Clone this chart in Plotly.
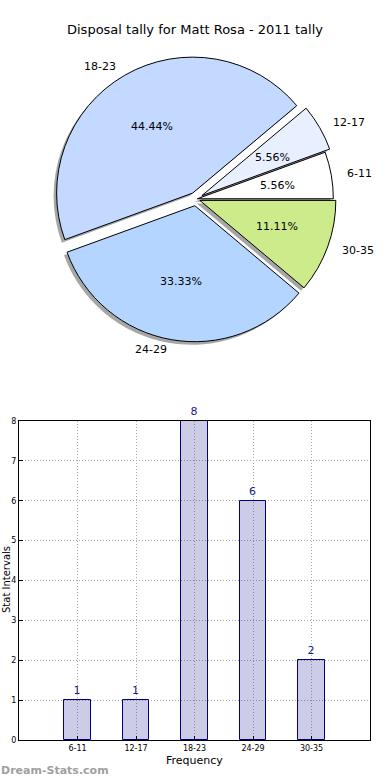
import math
import plotly.graph_objects as go

categories = ["6-11", "12-17", "18-23", "24-29", "30-35"]
counts = [1, 1, 8, 6, 2]
pie_colors = ["#FFFFFF", "#E8F0FF", "#C4D9FF", "#B4D5FF", "#CDEB8B"]
pulls = [0.01, 0.05, 0.05, 0.05, 0.03]
y_ticks = [0, 1, 2, 3, 4, 5, 6, 7, 8]

W, H = 390, 780
FONT = "DejaVu Sans"

total = sum(counts)
# plotly counterclockwise pies end the first slice at 'rotation'; start it at 3 o'clock
rot = 90 - 360 * counts[0] / total

# pie geometry (pixels)
cx, cy, r = 196, 199, 136
ysq_pct = 0.95  # vertical squeeze for percentage placement
ysq_lab = 0.98  # vertical squeeze for label placement
maxpull = max(pulls)
R = r * (1 + maxpull)
dom_x = [(cx - R) / W, (cx + R) / W]
dom_y = [1 - (cy + R) / H, 1 - (cy - R) / H]
sh = 3  # shadow offset px
dom_x_sh = [dom_x[0] - sh / W, dom_x[1] - sh / W]
dom_y_sh = [dom_y[0] - sh / H, dom_y[1] - sh / H]

fig = go.Figure()

# shadow
fig.add_trace(go.Pie(
    values=counts, labels=categories, sort=False, direction="counterclockwise",
    rotation=rot, pull=pulls, domain=dict(x=dom_x_sh, y=dom_y_sh),
    marker=dict(colors=["rgba(0,0,0,0.35)"] * len(counts), line=dict(width=0)),
    textinfo="none", hoverinfo="skip", showlegend=False,
))
# main pie
fig.add_trace(go.Pie(
    values=counts, labels=categories, sort=False, direction="counterclockwise",
    rotation=rot, pull=pulls, domain=dict(x=dom_x, y=dom_y),
    marker=dict(colors=pie_colors, line=dict(color="black", width=1)),
    textinfo="none", showlegend=False,
))

# percentage and category labels computed from values
cum = 0
for lab, c, p in zip(categories, counts, pulls):
    frac = c / total
    ang = math.radians((cum + frac / 2) * 360)
    cum += frac
    # percentage inside
    d = (0.6 + p) * r
    fig.add_annotation(x=(cx + d * math.cos(ang)) / W,
                       y=1 - (cy - ysq_pct * d * math.sin(ang)) / H,
                       xref="paper", yref="paper", xanchor="center", yanchor="middle",
                       text=f"{frac * 100:.2f}%", showarrow=False,
                       font=dict(family=FONT, size=11, color="black"))
    # category label outside
    d = (1.1 + p) * r
    fig.add_annotation(x=(cx + d * math.cos(ang)) / W,
                       y=1 - (cy - ysq_lab * d * math.sin(ang)) / H,
                       xref="paper", yref="paper",
                       xanchor="left" if math.cos(ang) > 0 else "right", yanchor="middle",
                       text=lab, showarrow=False,
                       font=dict(family=FONT, size=11, color="black"))

# bar chart
xs = list(range(len(categories)))
fig.add_trace(go.Bar(
    x=xs, y=counts, width=0.45, xaxis="x", yaxis="y",
    marker=dict(color="rgba(0,0,128,0.2)", line=dict(color="#000080", width=1)),
    text=[str(v) for v in counts], textposition="outside", cliponaxis=False,
    textfont=dict(family=FONT, size=11, color="#1a1a8c"),
    showlegend=False,
))

grid = dict(showgrid=True, gridcolor="#a8a8a8", griddash="1px,2px", gridwidth=1,
            showline=True, linecolor="black", linewidth=1, mirror=True,
            ticks="inside", ticklen=4, tickcolor="black", automargin=False,
            tickfont=dict(family=FONT, size=8, color="black"), zeroline=False)

fig.update_layout(
    width=W, height=H, margin=dict(l=0, r=0, t=0, b=0, pad=0, autoexpand=False),
    paper_bgcolor="white", plot_bgcolor="white",
    font=dict(family=FONT, color="black"),
    xaxis=dict(domain=[19 / W, 370 / W], range=[-1, 5], tickvals=xs, ticktext=categories, **grid),
    yaxis=dict(domain=[1 - 740 / H, 1 - 421 / H], range=[0, 8], tickvals=y_ticks, **grid),
    bargap=0,
)

fig.add_annotation(x=0.5, y=1 - 30 / H, xref="paper", yref="paper", xanchor="center",
                   yanchor="middle", text="Disposal tally for Matt Rosa - 2011 tally",
                   showarrow=False, font=dict(family=FONT, size=13, color="black"))
fig.add_annotation(x=194 / W, y=1 - 760 / H, xref="paper", yref="paper", xanchor="center",
                   yanchor="middle", text="Frequency", showarrow=False,
                   font=dict(family=FONT, size=11, color="black"))
fig.add_annotation(x=6 / W, y=1 - 580 / H, xref="paper", yref="paper", xanchor="center",
                   yanchor="middle", text="Stat Intervals", textangle=-90, showarrow=False,
                   font=dict(family=FONT, size=10, color="black"))
fig.add_annotation(x=0, y=1 - 770 / H, xref="paper", yref="paper", xanchor="left",
                   yanchor="middle", text="<b>Dream-Stats.com</b>", showarrow=False,
                   xshift=-1, font=dict(family=FONT, size=11, color="#a0a0a0"))

fig.write_html("out.html", config={"displayModeBar": False},
               post_script="document.body.style.margin='0px';")
